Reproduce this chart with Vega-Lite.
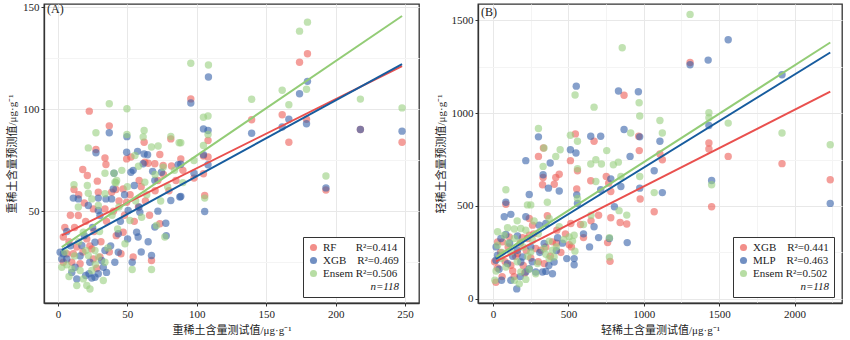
{
"$schema": "https://vega.github.io/schema/vega-lite/v6.json",
"padding": {"left": 5, "top": 0, "right": 7, "bottom": 0},
"config": {
 "font": "Liberation Serif, Noto Sans CJK SC",
 "view": {"stroke": "#333", "strokeWidth": 1.3},
 "axis": {"labelFont": "Liberation Serif", "labelFontSize": 11, "labelColor": "#222", "titleFont": "Liberation Serif, Noto Sans CJK SC", "titleFontSize": 11, "titleFontWeight": "normal", "titleColor": "#222", "domainColor": "#333", "domainWidth": 1.3, "tickColor": "#333", "tickSize": 3, "labelPadding": 2, "labelOverlap": false, "labelBound": false},
 "legend": {"labelFont": "Liberation Serif", "labelFontSize": 11, "labelColor": "#222", "titleFont": "Liberation Serif", "titleFontSize": 11, "titleFontWeight": "normal", "titleFontStyle": "italic", "titleColor": "#222", "strokeColor": "#333", "fillColor": "white", "padding": 5, "rowPadding": 1, "symbolSize": 50, "symbolOpacity": 0.7, "titleOrient": "bottom", "titleAnchor": "end", "titlePadding": 2},
 "concat": {"spacing": 14},
 "title": {"font": "Liberation Serif", "fontSize": 12, "fontWeight": "normal", "color": "#222"}
},
"datasets": {
 "a": [
  {"m":"RF","x":3.9,"y":37.3},{"m":"RF","x":3.9,"y":25},{"m":"RF","x":6.4,"y":29.1},{"m":"RF","x":10,"y":25},{"m":"RF","x":11.1,"y":29.1},{"m":"RF","x":11.6,"y":60.6},{"m":"RF","x":13.6,"y":32.4},{"m":"RF","x":14.7,"y":47.9},{"m":"RF","x":16,"y":24.2},{"m":"RF","x":17.9,"y":70.4},{"m":"RF","x":20.8,"y":36.4},{"m":"RF","x":21.2,"y":67.5},{"m":"RF","x":22.6,"y":99},{"m":"RF","x":24.4,"y":31.5},{"m":"RF","x":25.5,"y":51.1},{"m":"RF","x":25.5,"y":26.6},{"m":"RF","x":27.4,"y":80.2},{"m":"RF","x":28.4,"y":64.7},{"m":"RF","x":29.1,"y":59.3},{"m":"RF","x":30.3,"y":27.5},{"m":"RF","x":33.9,"y":51.1},{"m":"RF","x":33.9,"y":76.1},{"m":"RF","x":34.6,"y":72.9},{"m":"RF","x":37,"y":91.8},{"m":"RF","x":38.7,"y":59.3},{"m":"RF","x":41.8,"y":60.6},{"m":"RF","x":45.4,"y":29.1},{"m":"RF","x":47,"y":39.7},{"m":"RF","x":47,"y":60.9},{"m":"RF","x":49.5,"y":54.4},{"m":"RF","x":49.5,"y":75.6},{"m":"RF","x":52.6,"y":76.5},{"m":"RF","x":54.2,"y":27.5},{"m":"RF","x":58.5,"y":65},{"m":"RF","x":62.1,"y":83.8},{"m":"RF","x":62.6,"y":74},{"m":"RF","x":65,"y":73.5},{"m":"RF","x":67.4,"y":25.8},{"m":"RF","x":69.8,"y":73.2},{"m":"RF","x":73.4,"y":77.8},{"m":"RF","x":73.4,"y":43.8},{"m":"RF","x":75.8,"y":72.4},{"m":"RF","x":81.3,"y":85.4},{"m":"RF","x":81.8,"y":72.1},{"m":"RF","x":88.5,"y":75.6},{"m":"RF","x":95.7,"y":105},{"m":"RF","x":98,"y":66.2},{"m":"RF","x":104.8,"y":77},{"m":"RF","x":104.8,"y":68.3},{"m":"RF","x":105.7,"y":57.7},{"m":"RF","x":108.1,"y":84.6},{"m":"RF","x":108.1,"y":76.5},{"m":"RF","x":139.5,"y":94.8},{"m":"RF","x":161.5,"y":97.2},{"m":"RF","x":166.3,"y":83.8},{"m":"RF","x":174,"y":123},{"m":"RF","x":179.7,"y":127.1},{"m":"RF","x":179,"y":95},{"m":"RF","x":193,"y":60.4},{"m":"RF","x":217.8,"y":90},{"m":"RF","x":247.8,"y":83.8},{"m":"RF","x":8,"y":35},{"m":"RF","x":12,"y":42},{"m":"RF","x":18,"y":30},{"m":"RF","x":20,"y":45},{"m":"RF","x":23,"y":33},{"m":"RF","x":26,"y":40},{"m":"RF","x":28,"y":22},{"m":"RF","x":31,"y":35},{"m":"RF","x":35,"y":45},{"m":"RF","x":37,"y":30},{"m":"RF","x":40,"y":50},{"m":"RF","x":42,"y":38},{"m":"RF","x":44,"y":55},{"m":"RF","x":48,"y":48},{"m":"RF","x":52,"y":58},{"m":"RF","x":55,"y":45},{"m":"RF","x":58,"y":52},{"m":"RF","x":60,"y":62},{"m":"RF","x":63,"y":55},{"m":"RF","x":66,"y":48},{"m":"RF","x":70,"y":60},{"m":"RF","x":72,"y":65},{"m":"RF","x":76,"y":68},{"m":"RF","x":80,"y":60},{"m":"RF","x":85,"y":65},{"m":"RF","x":90,"y":70},{"m":"RF","x":15,"y":58},{"m":"RF","x":19,"y":54},{"m":"RF","x":5,"y":42},{"m":"RF","x":9,"y":48},
  {"m":"XGB","x":1.6,"y":29.9},{"m":"XGB","x":2.8,"y":26.6},{"m":"XGB","x":3.9,"y":29.1},{"m":"XGB","x":6.4,"y":40},{"m":"XGB","x":6.4,"y":26.6},{"m":"XGB","x":11.1,"y":56.4},{"m":"XGB","x":12.4,"y":22.5},{"m":"XGB","x":13.6,"y":16.8},{"m":"XGB","x":14.7,"y":56},{"m":"XGB","x":17.2,"y":33.2},{"m":"XGB","x":20,"y":18.5},{"m":"XGB","x":21.9,"y":52.8},{"m":"XGB","x":22.4,"y":19.3},{"m":"XGB","x":24.4,"y":17.2},{"m":"XGB","x":26.7,"y":17.6},{"m":"XGB","x":26.7,"y":34.8},{"m":"XGB","x":27.4,"y":78.6},{"m":"XGB","x":29.1,"y":19.3},{"m":"XGB","x":29.1,"y":50.3},{"m":"XGB","x":29.1,"y":56.4},{"m":"XGB","x":30.3,"y":47.9},{"m":"XGB","x":31.5,"y":25.8},{"m":"XGB","x":32.7,"y":22.5},{"m":"XGB","x":33.9,"y":30.7},{"m":"XGB","x":34.6,"y":56},{"m":"XGB","x":37,"y":88.4},{"m":"XGB","x":38.7,"y":56},{"m":"XGB","x":39.9,"y":60.9},{"m":"XGB","x":40.4,"y":68.6},{"m":"XGB","x":43.5,"y":29.9},{"m":"XGB","x":43.5,"y":38.9},{"m":"XGB","x":49.5,"y":78.9},{"m":"XGB","x":49.7,"y":86.5},{"m":"XGB","x":50.2,"y":36.4},{"m":"XGB","x":50.6,"y":50.3},{"m":"XGB","x":52.6,"y":69.1},{"m":"XGB","x":53.5,"y":25},{"m":"XGB","x":54.2,"y":70},{"m":"XGB","x":55,"y":62.6},{"m":"XGB","x":56.7,"y":39.7},{"m":"XGB","x":57.4,"y":79.3},{"m":"XGB","x":57.8,"y":37.3},{"m":"XGB","x":58.4,"y":52},{"m":"XGB","x":59,"y":49.5},{"m":"XGB","x":61.4,"y":73.2},{"m":"XGB","x":62.1,"y":78},{"m":"XGB","x":64.6,"y":77.6},{"m":"XGB","x":67.4,"y":28.3},{"m":"XGB","x":68.2,"y":69.5},{"m":"XGB","x":69.8,"y":42.2},{"m":"XGB","x":69.8,"y":65},{"m":"XGB","x":74.6,"y":69.1},{"m":"XGB","x":77.7,"y":44.1},{"m":"XGB","x":81.3,"y":55.2},{"m":"XGB","x":86.6,"y":72.7},{"m":"XGB","x":87.8,"y":56.9},{"m":"XGB","x":88.5,"y":73},{"m":"XGB","x":88.5,"y":57.2},{"m":"XGB","x":95.7,"y":103},{"m":"XGB","x":98,"y":68.6},{"m":"XGB","x":104.8,"y":90.3},{"m":"XGB","x":104.8,"y":77.6},{"m":"XGB","x":105.7,"y":49.8},{"m":"XGB","x":108.1,"y":89.5},{"m":"XGB","x":108.1,"y":72.7},{"m":"XGB","x":108.4,"y":115.7},{"m":"XGB","x":139.5,"y":88.2},{"m":"XGB","x":161.5,"y":91.2},{"m":"XGB","x":166.3,"y":95},{"m":"XGB","x":174,"y":107.5},{"m":"XGB","x":179.7,"y":113.6},{"m":"XGB","x":179,"y":92.8},{"m":"XGB","x":193,"y":61.4},{"m":"XGB","x":217.8,"y":90},{"m":"XGB","x":247.8,"y":89.2},{"m":"XGB","x":9,"y":33},{"m":"XGB","x":16,"y":28},{"m":"XGB","x":19,"y":38},{"m":"XGB","x":23,"y":25},{"m":"XGB","x":25,"y":42},{"m":"XGB","x":35,"y":20},{"m":"XGB","x":38,"y":33},{"m":"XGB","x":41,"y":25},{"m":"XGB","x":45,"y":45},{"m":"XGB","x":48,"y":58},{"m":"XGB","x":60,"y":30},{"m":"XGB","x":65,"y":35},{"m":"XGB","x":72,"y":50},{"m":"XGB","x":78,"y":38},{"m":"XGB","x":10,"y":20},
  {"m":"Ensem","x":2.8,"y":22.5},{"m":"Ensem","x":6.4,"y":23.7},{"m":"Ensem","x":10,"y":21.7},{"m":"Ensem","x":11.6,"y":62.9},{"m":"Ensem","x":13.6,"y":13.6},{"m":"Ensem","x":14.7,"y":52},{"m":"Ensem","x":16,"y":20.9},{"m":"Ensem","x":18.3,"y":16.8},{"m":"Ensem","x":18.3,"y":39.7},{"m":"Ensem","x":20,"y":30.7},{"m":"Ensem","x":20.8,"y":13.6},{"m":"Ensem","x":21.2,"y":62.6},{"m":"Ensem","x":21.9,"y":81},{"m":"Ensem","x":21.9,"y":58.8},{"m":"Ensem","x":21.9,"y":28.3},{"m":"Ensem","x":23.1,"y":11.9},{"m":"Ensem","x":24.4,"y":20.9},{"m":"Ensem","x":24.4,"y":56},{"m":"Ensem","x":26.7,"y":30.7},{"m":"Ensem","x":27.4,"y":88.4},{"m":"Ensem","x":29.1,"y":52.8},{"m":"Ensem","x":29.1,"y":27.5},{"m":"Ensem","x":32.7,"y":16},{"m":"Ensem","x":33.9,"y":25},{"m":"Ensem","x":33.9,"y":68.6},{"m":"Ensem","x":33.9,"y":58.5},{"m":"Ensem","x":37,"y":102.6},{"m":"Ensem","x":40.4,"y":68.6},{"m":"Ensem","x":41.1,"y":64.2},{"m":"Ensem","x":41.8,"y":63.9},{"m":"Ensem","x":42.3,"y":65},{"m":"Ensem","x":43,"y":41.3},{"m":"Ensem","x":48.3,"y":34},{"m":"Ensem","x":49.7,"y":100.2},{"m":"Ensem","x":49.7,"y":87.6},{"m":"Ensem","x":51.9,"y":45.4},{"m":"Ensem","x":53.5,"y":21.4},{"m":"Ensem","x":55.5,"y":77.3},{"m":"Ensem","x":60.3,"y":47},{"m":"Ensem","x":61.4,"y":86.3},{"m":"Ensem","x":62.1,"y":89.5},{"m":"Ensem","x":62.6,"y":64.2},{"m":"Ensem","x":67.4,"y":81.4},{"m":"Ensem","x":67.4,"y":21.4},{"m":"Ensem","x":71,"y":43},{"m":"Ensem","x":72.2,"y":81.9},{"m":"Ensem","x":75.8,"y":71.5},{"m":"Ensem","x":77,"y":37.3},{"m":"Ensem","x":81.3,"y":86.6},{"m":"Ensem","x":87.3,"y":83.5},{"m":"Ensem","x":88.5,"y":83.5},{"m":"Ensem","x":95.7,"y":122.5},{"m":"Ensem","x":98,"y":74.8},{"m":"Ensem","x":104.8,"y":96},{"m":"Ensem","x":104.8,"y":82.2},{"m":"Ensem","x":105.7,"y":56.4},{"m":"Ensem","x":108.1,"y":96.6},{"m":"Ensem","x":108.1,"y":87.6},{"m":"Ensem","x":108.4,"y":121.6},{"m":"Ensem","x":139.5,"y":104.8},{"m":"Ensem","x":161.5,"y":109.2},{"m":"Ensem","x":166.3,"y":102.1},{"m":"Ensem","x":174,"y":138.2},{"m":"Ensem","x":179.7,"y":142.6},{"m":"Ensem","x":179,"y":109.7},{"m":"Ensem","x":193,"y":67.2},{"m":"Ensem","x":217.8,"y":104.9},{"m":"Ensem","x":247.8,"y":100.6},{"m":"Ensem","x":5,"y":30},{"m":"Ensem","x":8,"y":18},{"m":"Ensem","x":12,"y":28},{"m":"Ensem","x":15,"y":35},{"m":"Ensem","x":27,"y":24},{"m":"Ensem","x":30,"y":40},{"m":"Ensem","x":36,"y":32},{"m":"Ensem","x":39,"y":48},{"m":"Ensem","x":44,"y":52},{"m":"Ensem","x":46,"y":70},{"m":"Ensem","x":50,"y":62},{"m":"Ensem","x":56,"y":55},{"m":"Ensem","x":58,"y":72},{"m":"Ensem","x":64,"y":58},{"m":"Ensem","x":70,"y":68},{"m":"Ensem","x":74,"y":55},{"m":"Ensem","x":79,"y":62},{"m":"Ensem","x":84,"y":70},{"m":"Ensem","x":90,"y":64}
 ],
 "aLine": [
  {"m":"RF","x":2.8,"y":38.1},{"m":"RF","x":247.8,"y":121.1},
  {"m":"XGB","x":2.8,"y":31},{"m":"XGB","x":247.8,"y":122.1},
  {"m":"Ensem","x":2.8,"y":32.4},{"m":"Ensem","x":247.8,"y":145.6}
 ],
 "b": [
  {"m":"XGB","x":85,"y":509},{"m":"XGB","x":30,"y":307},{"m":"XGB","x":30,"y":166},{"m":"XGB","x":19,"y":90},{"m":"XGB","x":118,"y":181},{"m":"XGB","x":162,"y":244},{"m":"XGB","x":283,"y":271},{"m":"XGB","x":317,"y":262},{"m":"XGB","x":339,"y":190},{"m":"XGB","x":63,"y":307},{"m":"XGB","x":107,"y":334},{"m":"XGB","x":228,"y":325},{"m":"XGB","x":394,"y":307},{"m":"XGB","x":195,"y":329},{"m":"XGB","x":240,"y":343},{"m":"XGB","x":240,"y":433},{"m":"XGB","x":262,"y":397},{"m":"XGB","x":360,"y":448},{"m":"XGB","x":423,"y":370},{"m":"XGB","x":516,"y":406},{"m":"XGB","x":505,"y":292},{"m":"XGB","x":776,"y":202},{"m":"XGB","x":760,"y":303},{"m":"XGB","x":781,"y":437},{"m":"XGB","x":843,"y":411},{"m":"XGB","x":887,"y":403},{"m":"XGB","x":976,"y":538},{"m":"XGB","x":1069,"y":469},{"m":"XGB","x":301,"y":767},{"m":"XGB","x":334,"y":812},{"m":"XGB","x":328,"y":614},{"m":"XGB","x":332,"y":653},{"m":"XGB","x":416,"y":653},{"m":"XGB","x":439,"y":671},{"m":"XGB","x":406,"y":617},{"m":"XGB","x":513,"y":744},{"m":"XGB","x":546,"y":888},{"m":"XGB","x":560,"y":690},{"m":"XGB","x":555,"y":592},{"m":"XGB","x":648,"y":636},{"m":"XGB","x":670,"y":848},{"m":"XGB","x":751,"y":659},{"m":"XGB","x":767,"y":623},{"m":"XGB","x":781,"y":578},{"m":"XGB","x":869,"y":1096},{"m":"XGB","x":966,"y":875},{"m":"XGB","x":970,"y":798},{"m":"XGB","x":1107,"y":780},{"m":"XGB","x":1123,"y":749},{"m":"XGB","x":1307,"y":1272},{"m":"XGB","x":1432,"y":839},{"m":"XGB","x":1432,"y":807},{"m":"XGB","x":1450,"y":496},{"m":"XGB","x":1560,"y":767},{"m":"XGB","x":1917,"y":728},{"m":"XGB","x":2237,"y":641},{"m":"XGB","x":50,"y":250},{"m":"XGB","x":80,"y":200},{"m":"XGB","x":100,"y":280},{"m":"XGB","x":130,"y":150},{"m":"XGB","x":150,"y":230},{"m":"XGB","x":180,"y":300},{"m":"XGB","x":200,"y":180},{"m":"XGB","x":220,"y":260},{"m":"XGB","x":250,"y":220},{"m":"XGB","x":270,"y":350},{"m":"XGB","x":300,"y":200},{"m":"XGB","x":350,"y":280},{"m":"XGB","x":380,"y":230},{"m":"XGB","x":420,"y":300},{"m":"XGB","x":450,"y":250},{"m":"XGB","x":480,"y":350},{"m":"XGB","x":520,"y":280},{"m":"XGB","x":580,"y":400},{"m":"XGB","x":600,"y":330},{"m":"XGB","x":650,"y":420},{"m":"XGB","x":700,"y":450},{"m":"XGB","x":60,"y":120},{"m":"XGB","x":140,"y":120},{"m":"XGB","x":210,"y":140},{"m":"XGB","x":10,"y":200},
  {"m":"MLP","x":19,"y":208},{"m":"MLP","x":56,"y":100},{"m":"MLP","x":118,"y":100},{"m":"MLP","x":157,"y":54},{"m":"MLP","x":217,"y":145},{"m":"MLP","x":240,"y":162},{"m":"MLP","x":283,"y":145},{"m":"MLP","x":328,"y":145},{"m":"MLP","x":350,"y":148},{"m":"MLP","x":394,"y":135},{"m":"MLP","x":184,"y":199},{"m":"MLP","x":195,"y":226},{"m":"MLP","x":96,"y":190},{"m":"MLP","x":162,"y":262},{"m":"MLP","x":250,"y":280},{"m":"MLP","x":405,"y":199},{"m":"MLP","x":30,"y":235},{"m":"MLP","x":339,"y":298},{"m":"MLP","x":74,"y":442},{"m":"MLP","x":118,"y":455},{"m":"MLP","x":217,"y":442},{"m":"MLP","x":306,"y":397},{"m":"MLP","x":350,"y":406},{"m":"MLP","x":85,"y":520},{"m":"MLP","x":85,"y":347},{"m":"MLP","x":162,"y":339},{"m":"MLP","x":52,"y":325},{"m":"MLP","x":428,"y":329},{"m":"MLP","x":670,"y":388},{"m":"MLP","x":489,"y":217},{"m":"MLP","x":538,"y":217},{"m":"MLP","x":538,"y":184},{"m":"MLP","x":772,"y":325},{"m":"MLP","x":890,"y":303},{"m":"MLP","x":805,"y":496},{"m":"MLP","x":560,"y":514},{"m":"MLP","x":240,"y":562},{"m":"MLP","x":301,"y":872},{"m":"MLP","x":217,"y":744},{"m":"MLP","x":379,"y":731},{"m":"MLP","x":332,"y":668},{"m":"MLP","x":367,"y":596},{"m":"MLP","x":439,"y":581},{"m":"MLP","x":555,"y":560},{"m":"MLP","x":513,"y":803},{"m":"MLP","x":550,"y":785},{"m":"MLP","x":648,"y":875},{"m":"MLP","x":714,"y":875},{"m":"MLP","x":714,"y":587},{"m":"MLP","x":781,"y":646},{"m":"MLP","x":848,"y":605},{"m":"MLP","x":869,"y":912},{"m":"MLP","x":909,"y":767},{"m":"MLP","x":973,"y":872},{"m":"MLP","x":973,"y":596},{"m":"MLP","x":964,"y":1115},{"m":"MLP","x":832,"y":1119},{"m":"MLP","x":552,"y":1145},{"m":"MLP","x":1107,"y":848},{"m":"MLP","x":1069,"y":690},{"m":"MLP","x":1123,"y":572},{"m":"MLP","x":1307,"y":1260},{"m":"MLP","x":1427,"y":1285},{"m":"MLP","x":1560,"y":1395},{"m":"MLP","x":1432,"y":933},{"m":"MLP","x":1450,"y":637},{"m":"MLP","x":1917,"y":1206},{"m":"MLP","x":2237,"y":514},{"m":"MLP","x":40,"y":160},{"m":"MLP","x":130,"y":230},{"m":"MLP","x":180,"y":120},{"m":"MLP","x":260,"y":200},{"m":"MLP","x":310,"y":250},{"m":"MLP","x":370,"y":180},{"m":"MLP","x":420,"y":260},{"m":"MLP","x":460,"y":300},{"m":"MLP","x":600,"y":350},{"m":"MLP","x":640,"y":280},{"m":"MLP","x":700,"y":330},{"m":"MLP","x":20,"y":280},{"m":"MLP","x":110,"y":300},
  {"m":"Ensem","x":12,"y":100},{"m":"Ensem","x":141,"y":100},{"m":"Ensem","x":174,"y":81},{"m":"Ensem","x":184,"y":145},{"m":"Ensem","x":217,"y":105},{"m":"Ensem","x":283,"y":135},{"m":"Ensem","x":295,"y":190},{"m":"Ensem","x":85,"y":172},{"m":"Ensem","x":118,"y":253},{"m":"Ensem","x":250,"y":253},{"m":"Ensem","x":339,"y":271},{"m":"Ensem","x":394,"y":262},{"m":"Ensem","x":405,"y":226},{"m":"Ensem","x":372,"y":217},{"m":"Ensem","x":52,"y":217},{"m":"Ensem","x":30,"y":289},{"m":"Ensem","x":74,"y":343},{"m":"Ensem","x":141,"y":325},{"m":"Ensem","x":184,"y":307},{"m":"Ensem","x":262,"y":316},{"m":"Ensem","x":372,"y":311},{"m":"Ensem","x":228,"y":506},{"m":"Ensem","x":250,"y":506},{"m":"Ensem","x":360,"y":520},{"m":"Ensem","x":372,"y":433},{"m":"Ensem","x":272,"y":419},{"m":"Ensem","x":184,"y":379},{"m":"Ensem","x":141,"y":376},{"m":"Ensem","x":217,"y":370},{"m":"Ensem","x":30,"y":361},{"m":"Ensem","x":96,"y":383},{"m":"Ensem","x":439,"y":388},{"m":"Ensem","x":505,"y":334},{"m":"Ensem","x":538,"y":343},{"m":"Ensem","x":527,"y":311},{"m":"Ensem","x":543,"y":257},{"m":"Ensem","x":772,"y":329},{"m":"Ensem","x":772,"y":226},{"m":"Ensem","x":836,"y":475},{"m":"Ensem","x":887,"y":451},{"m":"Ensem","x":85,"y":587},{"m":"Ensem","x":332,"y":713},{"m":"Ensem","x":301,"y":917},{"m":"Ensem","x":338,"y":812},{"m":"Ensem","x":416,"y":767},{"m":"Ensem","x":445,"y":803},{"m":"Ensem","x":513,"y":881},{"m":"Ensem","x":560,"y":848},{"m":"Ensem","x":560,"y":700},{"m":"Ensem","x":560,"y":541},{"m":"Ensem","x":648,"y":726},{"m":"Ensem","x":682,"y":749},{"m":"Ensem","x":719,"y":726},{"m":"Ensem","x":754,"y":798},{"m":"Ensem","x":798,"y":722},{"m":"Ensem","x":831,"y":736},{"m":"Ensem","x":682,"y":632},{"m":"Ensem","x":848,"y":659},{"m":"Ensem","x":973,"y":659},{"m":"Ensem","x":913,"y":893},{"m":"Ensem","x":969,"y":1056},{"m":"Ensem","x":973,"y":984},{"m":"Ensem","x":670,"y":1032},{"m":"Ensem","x":544,"y":1097},{"m":"Ensem","x":857,"y":1352},{"m":"Ensem","x":1107,"y":960},{"m":"Ensem","x":1123,"y":893},{"m":"Ensem","x":1069,"y":572},{"m":"Ensem","x":1307,"y":1531},{"m":"Ensem","x":1432,"y":1002},{"m":"Ensem","x":1432,"y":975},{"m":"Ensem","x":1560,"y":946},{"m":"Ensem","x":1450,"y":614},{"m":"Ensem","x":1917,"y":893},{"m":"Ensem","x":2237,"y":830},{"m":"Ensem","x":20,"y":150},{"m":"Ensem","x":60,"y":250},{"m":"Ensem","x":100,"y":300},{"m":"Ensem","x":160,"y":200},{"m":"Ensem","x":200,"y":280},{"m":"Ensem","x":240,"y":160},{"m":"Ensem","x":300,"y":350},{"m":"Ensem","x":350,"y":240},{"m":"Ensem","x":420,"y":280},{"m":"Ensem","x":470,"y":320},{"m":"Ensem","x":600,"y":400},{"m":"Ensem","x":650,"y":450},{"m":"Ensem","x":160,"y":420},{"m":"Ensem","x":230,"y":230}
 ],
 "bLine": [
  {"m":"XGB","x":20,"y":202},{"m":"XGB","x":2237,"y":1115},
  {"m":"MLP","x":20,"y":216},{"m":"MLP","x":2237,"y":1326},
  {"m":"Ensem","x":20,"y":226},{"m":"Ensem","x":2237,"y":1380}
 ]
},
"hconcat": [
 {
  "width": 375, "height": 299,
  "title": {"text": "(A)", "anchor": "start", "frame": "group", "offset": -15, "dx": 3},
  "layer": [
   {"data": {"name": "a"},
    "mark": {"type": "circle", "size": 55, "opacity": 0.6},
    "encoding": {
     "x": {"field": "x", "type": "quantitative", "scale": {"domain": [-10, 260], "nice": false, "zero": false},
       "axis": {"title": "重稀土含量测试值/μg·g⁻¹", "values": [0,25,50,75,100,125,150,175,200,225,250], "labelExpr": "datum.value % 50 == 0 ? datum.label : ''", "tickOpacity": {"condition": {"test": "datum.value % 50 == 0", "value": 1}, "value": 0}, "gridColor": {"condition": {"test": "datum.value % 50 == 0", "value": "#e8e8e8"}, "value": "#f4f4f4"}, "titlePadding": 5}},
     "y": {"field": "y", "type": "quantitative", "scale": {"domain": [5, 151.5], "nice": false, "zero": false},
       "axis": {"title": "重稀土含量预测值/μg·g⁻¹", "values": [25,50,75,100,125,150], "labelExpr": "datum.value % 50 == 0 ? datum.label : ''", "tickOpacity": {"condition": {"test": "datum.value % 50 == 0", "value": 1}, "value": 0}, "gridColor": {"condition": {"test": "datum.value % 50 == 0", "value": "#e8e8e8"}, "value": "#f4f4f4"}, "titlePadding": 5}},
     "color": {"field": "m", "type": "nominal", "scale": {"domain": ["RF", "XGB", "Ensem"], "range": ["#EC5E57", "#3560A8", "#98CF7E"]},
       "legend": {"title": "n=118", "orient": "none", "legendX": 259, "legendY": 233, "labelExpr": "datum.value == 'RF' ? 'RF\u00a0\u00a0\u00a0\u00a0\u00a0\u00a0\u00a0R²=0.414' : datum.value == 'XGB' ? 'XGB\u00a0\u00a0\u00a0\u00a0R²=0.469' : 'Ensem\u00a0R²=0.506'"}}
    }},
   {"data": {"name": "aLine"},
    "mark": {"type": "line", "strokeWidth": 2},
    "encoding": {
     "x": {"field": "x", "type": "quantitative"},
     "y": {"field": "y", "type": "quantitative"},
     "color": {"field": "m", "type": "nominal", "scale": {"domain": ["RF", "XGB", "Ensem"], "range": ["#E9504E", "#175C9E", "#93CC76"]}, "legend": null}
    }}
  ],
  "resolve": {"scale": {"color": "independent"}}
 },
 {
  "width": 364, "height": 299,
  "title": {"text": "(B)", "anchor": "start", "frame": "group", "offset": -15, "dx": 3},
  "layer": [
   {"data": {"name": "b"},
    "mark": {"type": "circle", "size": 55, "opacity": 0.6},
    "encoding": {
     "x": {"field": "x", "type": "quantitative", "scale": {"domain": [-100, 2315], "nice": false, "zero": false},
       "axis": {"title": "轻稀土含量测试值/μg·g⁻¹", "values": [0,250,500,750,1000,1250,1500,1750,2000,2250], "labelExpr": "datum.value % 500 == 0 ? datum.label : ''", "format": "d", "tickOpacity": {"condition": {"test": "datum.value % 500 == 0", "value": 1}, "value": 0}, "gridColor": {"condition": {"test": "datum.value % 500 == 0", "value": "#e8e8e8"}, "value": "#f4f4f4"}, "titlePadding": 5}},
     "y": {"field": "y", "type": "quantitative", "scale": {"domain": [-22, 1587], "nice": false, "zero": false},
       "axis": {"title": "轻稀土含量预测值/μg·g⁻¹", "values": [0,250,500,750,1000,1250,1500], "labelExpr": "datum.value % 500 == 0 ? datum.label : ''", "format": "d", "tickOpacity": {"condition": {"test": "datum.value % 500 == 0", "value": 1}, "value": 0}, "gridColor": {"condition": {"test": "datum.value % 500 == 0", "value": "#e8e8e8"}, "value": "#f4f4f4"}, "titlePadding": 5}},
     "color": {"field": "m", "type": "nominal", "scale": {"domain": ["XGB", "MLP", "Ensem"], "range": ["#EC5E57", "#3560A8", "#98CF7E"]},
       "legend": {"title": "n=118", "orient": "none", "legendX": 255, "legendY": 233, "labelExpr": "datum.value == 'XGB' ? 'XGB\u00a0\u00a0\u00a0\u00a0R²=0.441' : datum.value == 'MLP' ? 'MLP\u00a0\u00a0\u00a0\u00a0R²=0.463' : 'Ensem\u00a0R²=0.502'"}}
    }},
   {"data": {"name": "bLine"},
    "mark": {"type": "line", "strokeWidth": 2},
    "encoding": {
     "x": {"field": "x", "type": "quantitative"},
     "y": {"field": "y", "type": "quantitative"},
     "color": {"field": "m", "type": "nominal", "scale": {"domain": ["XGB", "MLP", "Ensem"], "range": ["#E9504E", "#175C9E", "#93CC76"]}, "legend": null}
    }}
  ],
  "resolve": {"scale": {"color": "independent"}}
 }
]
}
